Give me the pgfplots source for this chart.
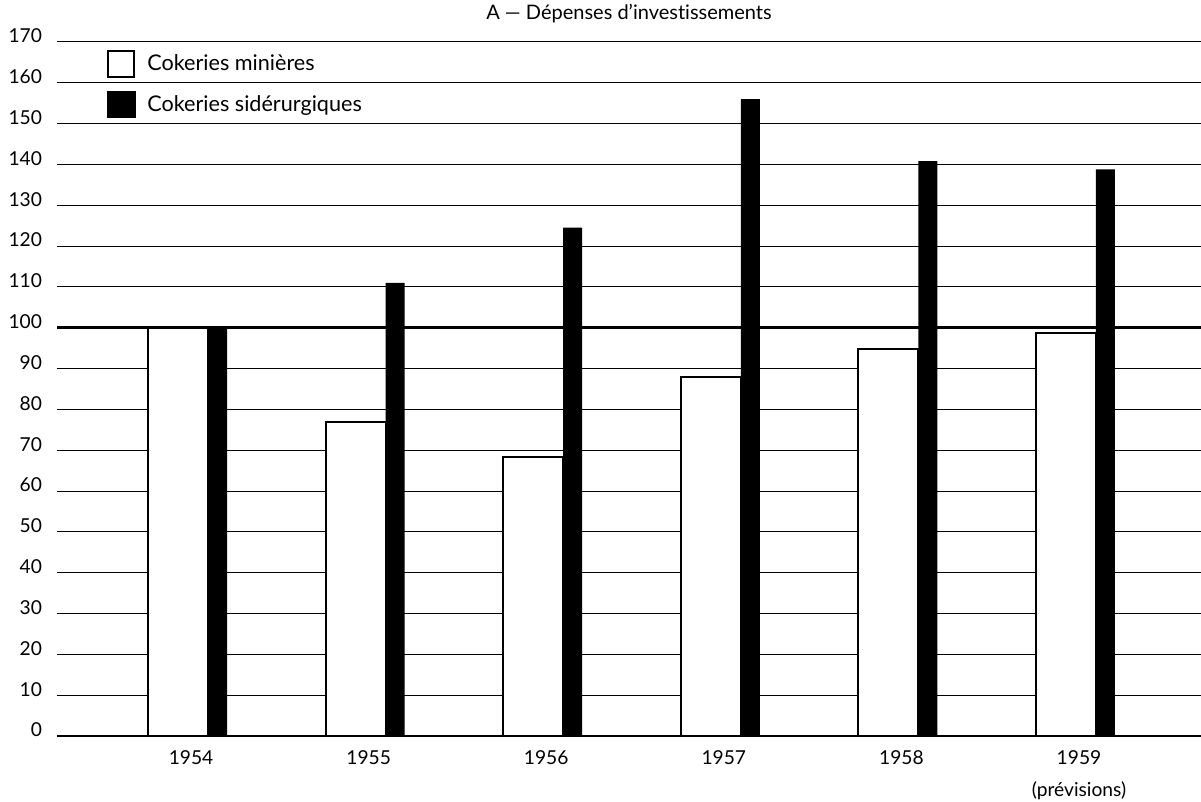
\documentclass[border=0pt]{standalone}
\usepackage{pgfplots}
\pgfplotsset{compat=1.18}
\usepackage{fontspec}
\setmainfont{Lato}[Ligatures={TeX,NoCommon}]
\begin{document}
\begin{tikzpicture}
\begin{axis}[
  scale only axis, width=572pt, height=347pt,
  xmin=-0.735, xmax=5.707, ymin=0, ymax=170,
  axis lines*=left,
  axis line style={-},
  y axis line style={draw=none},
  x axis line style={line width=1.2pt},
  ytick={0,10,...,170},
  ymajorgrids, grid style={black, line width=0.5pt},
  extra y ticks={100}, extra y tick labels={},
  extra y tick style={grid style={black, line width=1.4pt}},
  major tick length=0pt,
  /pgf/number format/assume math mode=true,
  yticklabel style={yshift=3pt, xshift=-4pt, font=\fontsize{9.6}{11}\selectfont},
  xtick={0.02,1.02,2.02,3.02,4.02,5.02},
  xticklabels={1954,1955,1956,1957,1958,{1959\\[5pt](prévisions)}},
  xticklabel style={align=center, yshift=-4pt, font=\fontsize{9.6}{11}\selectfont},
  title={A — Dépenses d'investissements},
  title style={font=\fontsize{10}{11}\selectfont, yshift=0pt},
  legend style={at={(0.0437,0.9885)}, anchor=north west, draw=none, fill=none,
    inner sep=0pt, row sep=6.5pt, font=\fontsize{10.8}{12}\selectfont},
  legend cell align=left,
  clip=false,
]
\addplot[ybar, bar shift=0pt, bar width=0.338, fill=white, draw=black, line width=1pt,
  legend image code/.code={\draw[fill=white, draw=black, line width=1pt] (0pt,-6.5pt) rectangle (13pt,6.5pt); \path (17pt,0pt);}]
  coordinates {(-0.0535,100) (0.9465,77) (1.9465,68.4) (2.9465,88) (3.9465,94.9) (4.9465,98.8)};
\addlegendentry{Cokeries minières}
\addplot[ybar, bar shift=0pt, bar width=0.107, fill=black, draw=none,
  legend image code/.code={\fill[black] (-0.5pt,-6.75pt) rectangle (14pt,6.75pt); \path (17pt,0pt);}]
  coordinates {(0.169,100) (1.169,111) (2.169,124.5) (3.169,156) (4.169,140.8) (5.169,138.8)};
\addlegendentry{Cokeries sidérurgiques}
\end{axis}
\pgfresetboundingbox
\path[use as bounding box] ([xshift=-28.5pt,yshift=-33pt]current axis.south west) rectangle ([yshift=21pt]current axis.north east);
\end{tikzpicture}
\end{document}
